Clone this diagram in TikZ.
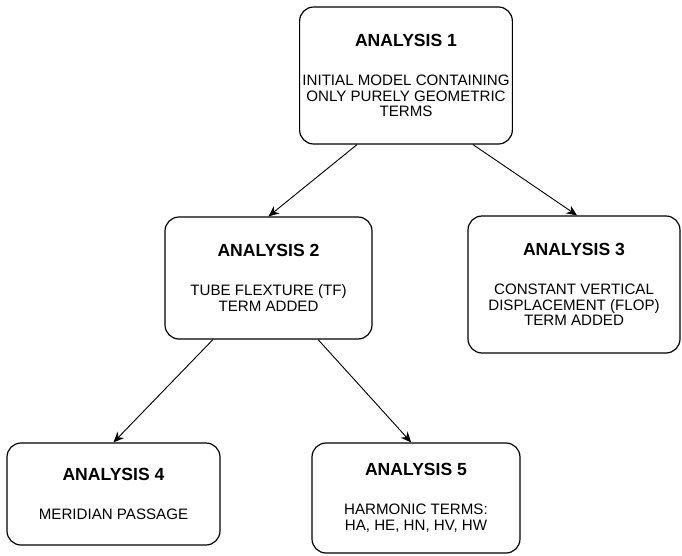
\documentclass[tikz,border=0pt]{standalone}
\usepackage{fontspec}
\setmainfont{Liberation Sans}
\usetikzlibrary{arrows.meta, positioning}

\newcommand{\stagetitle}[1]{{\fontsize{12.5}{11}\selectfont\bfseries #1}\\[16.5pt]}

\begin{document}
\begin{tikzpicture}[
    stage/.style={draw, line width=0.85pt, rounded corners=10pt, align=center, inner sep=2pt,
        font=\fontsize{10.75}{11.2}\selectfont},
    wide/.style={stage, minimum width=5.3cm, minimum height=3.425cm},
    flow/.style={-{Stealth[length=7.5pt, width=6.5pt]}, line width=0.65pt}
]
    \useasboundingbox (0,0) rectangle (17.05,-13.875);

    % Top analysis
    \node[wide] (an1) at (10.15,-1.8875) {\stagetitle{ANALYSIS 1}INITIAL MODEL CONTAINING\\ONLY PURELY GEOMETRIC\\TERMS};

    % Second level
    \node[stage, minimum width=5.175cm, minimum height=3.05cm] (an2) at (6.7125,-6.95) {\stagetitle{ANALYSIS 2}TUBE FLEXTURE (TF)\\TERM ADDED};
    \node[wide] (an3) at (14.35,-7.1125) {\stagetitle{ANALYSIS 3}CONSTANT VERTICAL\\DISPLACEMENT (FLOP)\\TERM ADDED};

    % Third level
    \node[stage, minimum width=5.325cm, minimum height=2.55cm] (an4) at (2.8375,-12.35) {\stagetitle{ANALYSIS 4}MERIDIAN PASSAGE};
    \node[stage, minimum width=5.2cm, minimum height=2.75cm] (an5) at (10.4,-12.45) {\stagetitle{ANALYSIS 5}HARMONIC TERMS:\\HA, HE, HN, HV, HW};

    % Flows
    \draw[flow] ([xshift=-1.225cm]an1.south) -- (an2.north);
    \draw[flow] ([xshift=1.675cm]an1.south) -- ([xshift=0.075cm]an3.north);
    \draw[flow] ([xshift=-1.39cm]an2.south) -- (an4.north);
    \draw[flow] ([xshift=1.24cm]an2.south) -- ([xshift=-0.12cm]an5.north);

\end{tikzpicture}
\end{document}
